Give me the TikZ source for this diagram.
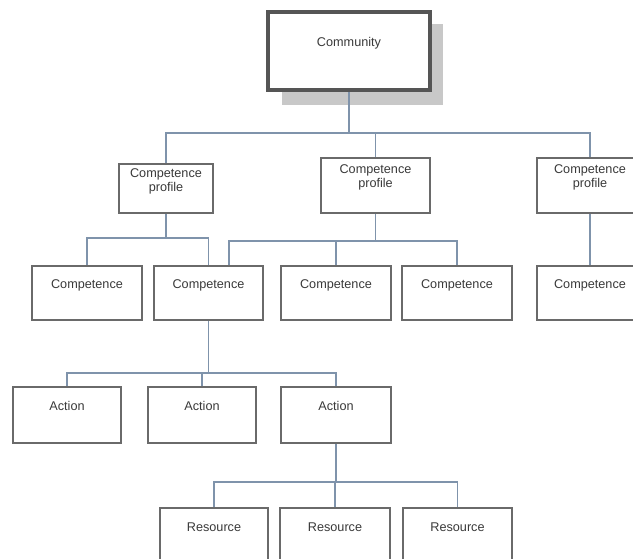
\documentclass[tikz,border=0pt]{standalone}
\usepackage{fontspec}
\setmainfont{Liberation Sans}
\usetikzlibrary{calc}
\definecolor{boxgray}{HTML}{6A6A6A}
\definecolor{comgray}{HTML}{555555}
\definecolor{shadowgray}{HTML}{C8C8C8}
\definecolor{connblue}{HTML}{7F93AB}
\definecolor{txtgray}{HTML}{3A3A3A}
\tikzset{
  bx/.style 2 args={draw=boxgray, line width=1.2pt, fill=white, inner sep=0pt,
    minimum width=#1*0.75pt, minimum height=#2*0.75pt},
  conn/.style={draw=connblue, line width=0.8pt},
  txt/.style={text=txtgray, font=\fontsize{9.5pt}{10.5pt}\selectfont, align=center, inner sep=0pt}
}
\begin{document}
\begin{tikzpicture}[x=0.75pt,y=-0.75pt]
\useasboundingbox (0,0) rectangle (633,559);
\clip (0,0) rectangle (633,559);
\fill[white] (0,0) rectangle (633,559);
% shadow of Community box
\fill[shadowgray] (282,24) rectangle (443,105);
% boxes
\node[bx={162}{78}, draw=comgray, line width=3pt] (com) at (349,51) {};
\node[bx={94}{49}]  (cp1) at (166,188.5) {};
\node[bx={109}{55}] (cp2) at (375.5,185.5) {};
\node[bx={106}{55}] (cp3) at (590,185.5) {};
\node[bx={110}{54}] (c1) at (87,293) {};
\node[bx={109}{54}] (c2) at (208.5,293) {};
\node[bx={110}{54}] (c3) at (336,293) {};
\node[bx={110}{54}] (c4) at (457,293) {};
\node[bx={106}{54}] (c5) at (590,293) {};
\node[bx={108}{56}] (a1) at (67,415) {};
\node[bx={108}{56}] (a2) at (202,415) {};
\node[bx={110}{56}] (a3) at (336,415) {};
\node[bx={108}{56}] (r1) at (214,536) {};
\node[bx={110}{56}] (r2) at (335,536) {};
\node[bx={109}{56}] (r3) at (457.5,536) {};
% texts
\node[txt] (tcom) at (349,43) {Community};
\node[txt] (tcp1) at (166,181) {Competence\\profile};
\node[txt] (tcp2) at (375.5,177) {Competence\\profile};
\node[txt] (tcp3) at (590,177.5) {Competence\\profile};
\node[txt] (tc1) at (87,285) {Competence};
\node[txt] (tc2) at (208.5,285) {Competence};
\node[txt] (tc3) at (336,285) {Competence};
\node[txt] (tc4) at (457,285) {Competence};
\node[txt] (tc5) at (590,285) {Competence};
\node[txt] (ta1) at (67,406) {Action};
\node[txt] (ta2) at (202,406) {Action};
\node[txt] (ta3) at (336,406) {Action};
\node[txt] (tr1) at (214,527) {Resource};
\node[txt] (tr2) at (335,527) {Resource};
\node[txt] (tr3) at (457.5,527) {Resource};
% junction levels
\coordinate (j0) at (349,133);
\coordinate (j1) at (166,238);
\coordinate (k)  at (229,241);
\coordinate (j3) at (208,373);
\coordinate (j4) at (336,482);
% connectors
\draw[conn] (com.south) -- (com.south |- j0);
\draw[conn] (cp1.north) |- (cp3.north |- j0) -- (cp3.north);
\draw[conn] (cp2.north) -- (cp2.north |- j0);
\draw[conn] (cp1.south) -- (cp1.south |- j1);
\draw[conn] (c1.north) |- (c2.north |- j1) -- (c2.north);
\draw[conn] (cp2.south) -- (cp2.south |- k);
\draw[conn] (c2.north -| k) -- (k) -- (k -| c4.north) -- (c4.north);
\draw[conn] (c3.north) -- (c3.north |- k);
\draw[conn] (cp3.south) -- (c5.north);
\draw[conn] (c2.south) -- (c2.south |- j3);
\draw[conn] (a1.north) |- (a3.north |- j3) -- (a3.north);
\draw[conn] (a2.north) -- (a2.north |- j3);
\draw[conn] (a3.south) -- (a3.south |- j4);
\draw[conn] (r1.north) |- (r3.north |- j4) -- (r3.north);
\draw[conn] (r2.north) -- (r2.north |- j4);
\end{tikzpicture}
\end{document}
